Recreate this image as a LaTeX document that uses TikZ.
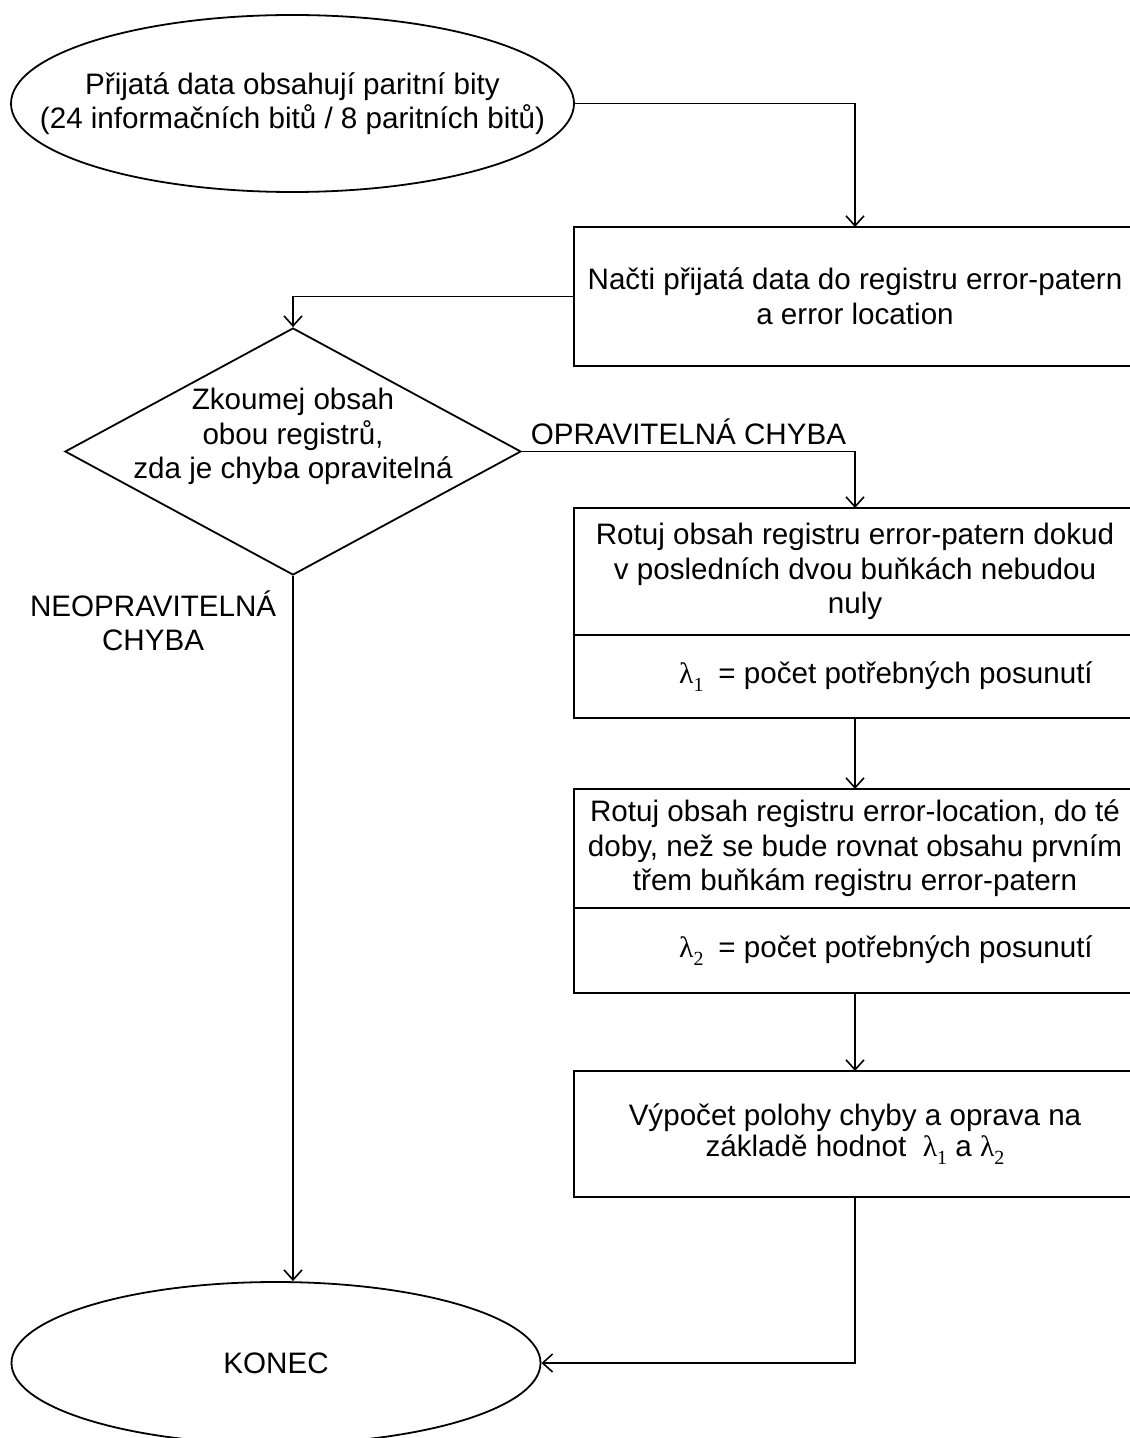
\documentclass[tikz,border=0pt]{standalone}
\usepackage{fontspec}
\setmainfont{Liberation Sans}
\newfontfamily\greekfont{Liberation Serif}
\usepackage{tikz}
\usetikzlibrary{arrows.meta,positioning,shapes.geometric}
\newcommand{\lam}[1]{{\greekfont λ}\raisebox{-0.5ex}{\greekfont\fontsize{10}{10}\selectfont #1}}

\begin{document}
\begin{tikzpicture}[x=0.5pt,y=-0.5pt,
  every node/.style={font=\fontsize{14.8}{17.25}\selectfont,align=center,inner sep=0pt},
  term/.style={ellipse,draw,line width=0.9pt},
  decide/.style={diamond,draw,line width=0.9pt,minimum width=228pt,minimum height=123.5pt},
  stepbox/.style={rectangle,draw,line width=0.9pt,outer sep=0pt,minimum width=281pt},
  arr/.style={-{Straight Barb[length=5pt,width=9pt]},line width=0.8pt}
]
\useasboundingbox (0,0) rectangle (1129,1438);
\node[term,minimum width=281.5pt,minimum height=88.5pt,
  label={center:Přijatá data obsahují paritní bity\\(24 informačních bitů / 8 paritních bitů)}] (start) at (292.5,103.5) {};
\node[stepbox,minimum height=69.5pt] (load) at (855,296.5) {Načti přijatá data do registru error-patern\\a error location};
\node[decide,label={[yshift=7.5pt]center:Zkoumej obsah\\obou registrů,\\zda je chyba opravitelná}] (check) at (293,451.5) {};
\node[stepbox,minimum height=63.5pt] (rot1) at (855,571.5) {Rotuj obsah registru error-patern dokud\\v posledních dvou buňkách nebudou\\nuly};
\node[stepbox,minimum height=41.5pt,below=0pt of rot1,
  label={[xshift=15.5pt]center:\lam{1}\enspace= počet potřebných posunutí}] (lam1) {};
\node[stepbox,minimum height=59.5pt] (rot2) at (855,848.5) {Rotuj obsah registru error-location, do té\\doby, než se bude rovnat obsahu prvním\\třem buňkám registru error-patern};
\node[stepbox,minimum height=42.5pt,below=0pt of rot2,
  label={[xshift=15.5pt]center:\lam{2}\enspace= počet potřebných posunutí}] (lam2) {};
\node[stepbox,minimum height=63pt,font=\fontsize{14.8}{15.5}\selectfont] (calc) at (855,1134) {Výpočet polohy chyby a oprava na\\základě hodnot \ \lam{1} a \lam{2}};
\node[term,minimum width=264.5pt,minimum height=81pt] (stop) at (276,1363) {KONEC};
% spojnice
\draw[arr] (start.east) -| (load.north);
\draw[arr] (load.west) -| (check.north);
\draw[arr] (check.east) -| node[pos=0.25,above=3pt] {OPRAVITELNÁ CHYBA} (rot1.north);
\draw[arr] (lam1.south) -- (rot2.north);
\draw[arr] (lam2.south) -- (calc.north);
\draw[arr] (calc.south) |- (stop);
\draw[arr] (check.south) -- node[pos=0.064,left=8pt] {NEOPRAVITELNÁ\\CHYBA} (check.south |- stop.north);
\end{tikzpicture}
\end{document}
